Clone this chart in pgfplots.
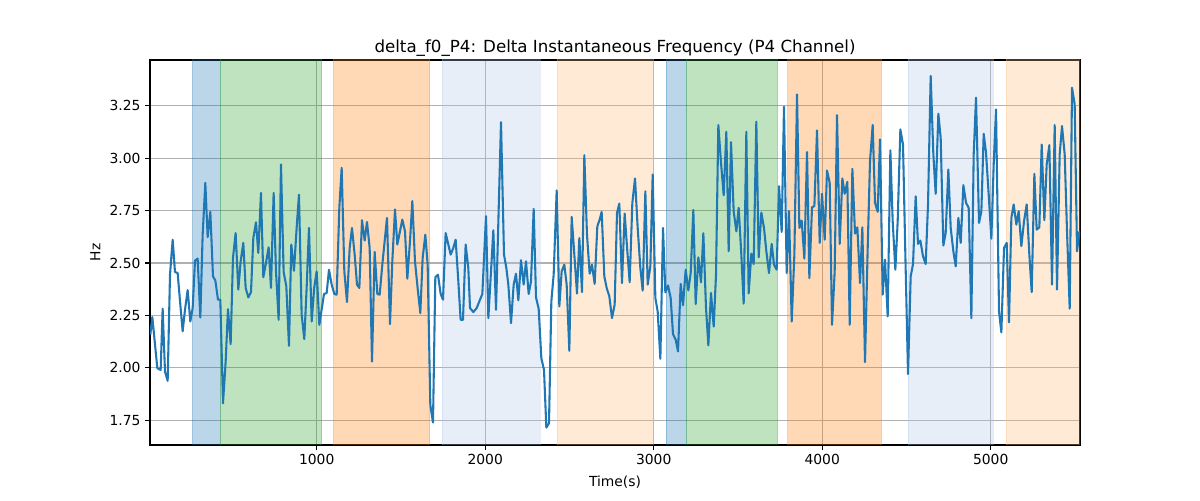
\documentclass[border=0pt]{standalone}
\usepackage{fontspec}
\setmainfont{DejaVu Sans}
\usepackage{pgfplots}
\usepackage{pgfplotstable}
\pgfplotsset{compat=1.18}
\definecolor{tabblue}{HTML}{1F77B4}
\definecolor{tabgreen}{HTML}{2CA02C}
\definecolor{taborange}{HTML}{FF7F0E}
\definecolor{lightblue}{HTML}{AEC7E8}
\definecolor{lightorange}{HTML}{FFBB78}
\definecolor{gridgray}{HTML}{B0B0B0}
\pgfplotstableread{
t v
12.6 2.158
24.5 2.242
54.2 1.998
74 1.990
85.8 2.282
99.7 1.982
115.5 1.938
129.4 2.444
145.2 2.611
159 2.457
174.8 2.452
190.7 2.301
204.5 2.174
218.4 2.277
234.2 2.371
250 2.221
263.9 2.285
277.7 2.511
293.5 2.521
309.3 2.240
323.2 2.635
339 2.882
352.9 2.623
368.7 2.744
384.5 2.436
398.4 2.417
414.2 2.325
428 2.325
443.9 1.831
459.7 2.030
473.5 2.280
489.3 2.113
503.2 2.524
519 2.643
534.8 2.373
548.7 2.508
564.5 2.596
578.4 2.381
594.2 2.336
610 2.361
623.9 2.619
639.7 2.694
653.5 2.548
669.3 2.834
683.2 2.432
699 2.500
714.8 2.575
728.7 2.381
744.5 2.834
758.4 2.460
774.2 2.229
788 2.970
803.8 2.457
819.7 2.389
835.5 2.105
849.3 2.588
865.2 2.463
881 2.667
894.8 2.826
910.7 2.253
926.5 2.137
940.3 2.381
954.2 2.667
970.2 2.221
985 2.380
999.8 2.460
1015.7 2.205
1043.3 2.352
1059.2 2.357
1073 2.468
1088.8 2.397
1104.7 2.352
1118.5 2.349
1134.3 2.763
1148.2 2.954
1164 2.460
1179.8 2.314
1195.7 2.572
1209.5 2.667
1225.3 2.540
1239.2 2.397
1253 2.381
1268.8 2.704
1284.7 2.607
1298.5 2.696
1314.3 2.572
1328.2 2.030
1344 2.553
1359.8 2.352
1373.7 2.349
1389.5 2.492
1403.3 2.604
1417.2 2.715
1435 2.209
1448.8 2.508
1464.7 2.755
1478.5 2.588
1494.3 2.651
1508.2 2.707
1524 2.651
1537.8 2.425
1553.7 2.604
1567.5 2.795
1583.3 2.508
1599 2.380
1615 2.261
1628.8 2.524
1644.7 2.635
1658.5 2.492
1674.3 1.823
1690.2 1.739
1704 2.432
1719.8 2.444
1735.7 2.352
1749.5 2.325
1765.3 2.643
1781.2 2.588
1795 2.540
1810.8 2.572
1824.7 2.611
1840.5 2.413
1854.3 2.229
1868.2 2.229
1884 2.588
1899.8 2.476
1909.9 2.285
1929.7 2.266
1949.4 2.285
1969.2 2.325
1983 2.352
2004.8 2.723
2018.7 2.237
2034.5 2.460
2048.3 2.656
2064.2 2.277
2093.8 3.172
2111.6 2.540
2125.5 2.476
2137.3 2.397
2153.2 2.213
2169 2.397
2182.8 2.449
2196.7 2.322
2212.5 2.513
2228.3 2.397
2242.2 2.508
2258 2.352
2271.8 2.412
2287.7 2.758
2301.5 2.336
2317.3 2.282
2333.2 2.046
2349 1.990
2362.8 1.715
2378.7 1.736
2392.5 2.317
2406.3 2.444
2424.2 2.846
2440 2.293
2453.8 2.460
2469.6 2.492
2483.5 2.397
2499.3 2.081
2513.2 2.720
2529 2.540
2544.8 2.354
2558.7 2.619
2574.5 2.361
2588.3 3.014
2604.1 2.635
2620 2.449
2633.8 2.492
2649.6 2.400
2665.5 2.675
2679.3 2.707
2691.2 2.744
2707 2.436
2720.9 2.381
2736.7 2.341
2752.5 2.237
2768.3 2.301
2782.2 2.739
2796 2.783
2811.8 2.404
2827.7 2.736
2843.5 2.556
2857.3 2.408
2873.3 2.787
2889.1 2.903
2905 2.667
2920.8 2.476
2934.6 2.368
2950.5 2.842
2964.3 2.397
2980.1 2.484
2994 2.922
3009.8 2.333
3023.6 2.269
3039.5 2.043
3055.3 2.667
3069.1 2.360
3085 2.393
3100.8 2.333
3114.6 2.161
3130.5 2.134
3144.3 2.078
3160.1 2.400
3174 2.298
3189.8 2.468
3205.6 2.369
3219.5 2.452
3235.3 2.753
3249.1 2.304
3265 2.527
3280.8 2.408
3294.6 2.642
3310.5 2.285
3324.3 2.107
3340.1 2.357
3356 2.197
3369.8 2.444
3383.6 3.158
3399.5 2.978
3415.3 2.823
3431.1 3.126
3445 2.556
3458.8 3.076
3474.6 2.747
3490.5 2.651
3504.3 2.763
3520.1 2.540
3534 2.306
3549.8 3.126
3563.6 2.355
3579.5 2.545
3593.3 2.495
3609.1 3.174
3623 2.527
3638.8 2.740
3654.6 2.667
3668.5 2.556
3684.3 2.452
3700.1 2.591
3714 2.492
3729.8 2.468
3743.6 2.866
3759.5 2.648
3773.3 3.245
3789.1 2.452
3803 2.747
3819 2.221
3834.8 2.540
3850.6 3.304
3864.5 2.667
3878.3 2.702
3894.1 2.521
3910 3.029
3923.8 2.428
3939.6 2.766
3953.5 2.771
3969.3 3.132
3985.1 2.596
3999 2.830
4014.8 2.611
4028.6 2.941
4044.5 2.882
4058.3 2.205
4074.1 2.460
4088 3.205
4103.8 2.591
4119.6 2.903
4133.5 2.830
4149.3 2.887
4163.1 2.205
4179 2.949
4194.8 2.640
4208.6 2.670
4224.5 2.404
4238.3 2.670
4254.1 2.027
4270 2.572
4283.8 2.986
4299.6 3.158
4313.5 2.787
4329.3 2.744
4343.1 3.089
4359 2.349
4372.8 2.516
4388.6 2.245
4404.5 3.037
4418.3 2.699
4434.1 2.468
4448 2.699
4463.8 3.137
4479.6 3.065
4493.5 2.540
4509.3 1.970
4525.1 2.436
4539 2.495
4554.8 2.818
4568.6 2.591
4582.5 2.607
4598.3 2.532
4614.1 2.495
4628 2.779
4643.8 3.392
4659.6 3.018
4673.5 2.830
4689.3 3.212
4703.1 3.097
4719 2.583
4732.8 2.643
4748.6 2.946
4762.6 2.667
4778.4 2.556
4792.3 2.484
4808.1 2.715
4822 2.596
4837.8 2.871
4853.6 2.787
4869.4 2.763
4885.2 2.237
4899.1 3.018
4912.9 3.288
4930.7 2.691
4944.6 2.747
4958.4 3.116
4972.3 3.025
4988.1 2.826
5003.9 2.616
5017.8 2.970
5031.6 3.232
5049.4 2.269
5063.3 2.169
5079.1 2.572
5094.9 2.596
5108.7 2.217
5122.6 2.715
5136.4 2.779
5152.3 2.683
5166.1 2.747
5181.9 2.580
5197.8 2.699
5213.6 2.779
5229.4 2.540
5243.3 2.361
5259.1 2.925
5272.9 2.659
5288.7 2.670
5302.6 3.065
5318.4 2.704
5332.3 2.970
5348.1 3.062
5363.9 2.397
5379.7 3.158
5393.6 2.373
5409.4 3.018
5423.2 3.153
5439.1 3.018
5452.9 2.651
5468.8 2.282
5482.6 3.336
5498.4 3.256
5512.3 2.556
5526.1 2.648
5530 2.650
}\datatable
\begin{document}
\begin{tikzpicture}
\path[use as bounding box] (0,0) rectangle (900pt,375pt);
\begin{axis}[
  at={(112.5pt,41.25pt)}, anchor=south west,
  width=697.5pt, height=288.75pt, scale only axis,
  xmin=10.7, xmax=5530, ymin=1.632, ymax=3.468,
  clip=true,
  grid=major,
  major grid style={draw=gridgray, line width=0.83pt},
  xtick={1000,2000,3000,4000,5000},
  ytick={1.75,2.00,2.25,2.50,2.75,3.00,3.25},
  scaled ticks=false,
  xticklabel style={/pgf/number format/.cd,fixed,1000 sep={}},
  yticklabel style={/pgf/number format/.cd,fixed,fixed zerofill,precision=2},
  /pgf/number format/assume math mode=true,
  tick align=outside, tick pos=left,
  major tick length=3.65pt,
  tick style={black, line width=0.83pt},
  axis line style={line width=0.83pt},
  ticklabel style={font=\fontsize{10.4}{12}\selectfont},
  label style={font=\fontsize{10.4}{12}\selectfont},
  xlabel style={yshift=-1pt},
  title style={font=\fontsize{12.5}{15}\selectfont, yshift=-7pt},
  title={delta\_f0\_P4: Delta Instantaneous Frequency (P4 Channel)},
  xlabel={Time(s)}, ylabel={Hz},
]
\addplot[forget plot, draw=tabblue, draw opacity=0.3, fill=tabblue, fill opacity=0.3] coordinates {(262,1) (428,1) (428,4) (262,4) (262,1)};
\addplot[forget plot, draw=tabgreen, draw opacity=0.3, fill=tabgreen, fill opacity=0.3] coordinates {(428,1) (1030,1) (1030,4) (428,4) (428,1)};
\addplot[forget plot, draw=taborange, draw opacity=0.3, fill=taborange, fill opacity=0.3] coordinates {(1099,1) (1671,1) (1671,4) (1099,4) (1099,1)};
\addplot[forget plot, draw=lightblue, draw opacity=0.3, fill=lightblue, fill opacity=0.3] coordinates {(1744,1) (2325,1) (2325,4) (1744,4) (1744,1)};
\addplot[forget plot, draw=lightorange, draw opacity=0.3, fill=lightorange, fill opacity=0.3] coordinates {(2426,1) (3000,1) (3000,4) (2426,4) (2426,1)};
\addplot[forget plot, draw=tabblue, draw opacity=0.3, fill=tabblue, fill opacity=0.3] coordinates {(3073,1) (3194,1) (3194,4) (3073,4) (3073,1)};
\addplot[forget plot, draw=tabgreen, draw opacity=0.3, fill=tabgreen, fill opacity=0.3] coordinates {(3194,1) (3736,1) (3736,4) (3194,4) (3194,1)};
\addplot[forget plot, draw=taborange, draw opacity=0.3, fill=taborange, fill opacity=0.3] coordinates {(3795,1) (4353,1) (4353,4) (3795,4) (3795,1)};
\addplot[forget plot, draw=lightblue, draw opacity=0.3, fill=lightblue, fill opacity=0.3] coordinates {(4509,1) (5016,1) (5016,4) (4509,4) (4509,1)};
\addplot[forget plot, draw=lightorange, draw opacity=0.3, fill=lightorange, fill opacity=0.3] coordinates {(5091,1) (5600,1) (5600,4) (5091,4) (5091,1)};
\addplot[tabblue, line width=1.56pt, line join=round, mark=none] table[x=t, y=v] {\datatable};
\end{axis}
\end{tikzpicture}
\end{document}
